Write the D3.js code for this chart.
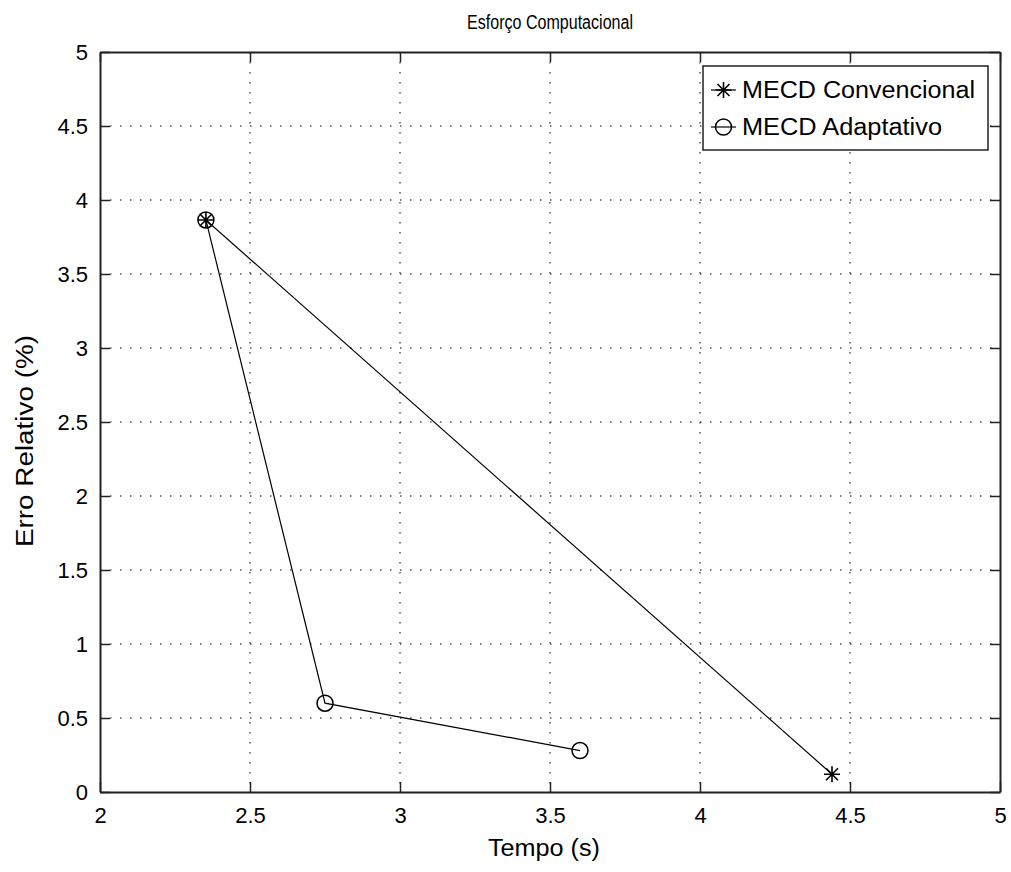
<!DOCTYPE html>
<html>
<head>
  <title>Esforço Computacional</title>
  <script src="https://d3js.org/d3.v7.min.js"></script>
  <style>
    body { margin: 0; background: #fff; }
    text { font-family: "Liberation Sans", Arial, sans-serif; fill: #000; }
    .grid line { stroke: #000; stroke-width: 1; stroke-dasharray: 1.5, 8.5; }
  </style>
</head>
<body>
  <div id="chart"></div>
  <script>
    // data
    const convTempo = [2.353, 4.44];
    const convErro = [3.865, 0.12];
    const adapTempo = [2.353, 2.75, 3.60];
    const adapErro = [3.865, 0.60, 0.28];
    const xTicks = [2, 2.5, 3, 3.5, 4, 4.5, 5];
    const yTicks = [0, 0.5, 1, 1.5, 2, 2.5, 3, 3.5, 4, 4.5, 5];
    const seriesNames = ["MECD Convencional", "MECD Adaptativo"];
    const legendWidths = [233, 200];

    const margin = { top: 52, right: 11, bottom: 80, left: 100 };
    const width = 1011 - margin.left - margin.right;
    const height = 872 - margin.top - margin.bottom;

    const svg = d3.select("#chart").append("svg")
      .attr("width", 1011)
      .attr("height", 872);

    const g = svg.append("g")
      .attr("transform", "translate(" + margin.left + "," + margin.top + ")");

    const x = d3.scaleLinear().domain([2, 5]).range([0, width]);
    const y = d3.scaleLinear().domain([0, 5]).range([height, 0]);

    // dotted grid
    const grid = g.append("g").attr("class", "grid");
    grid.selectAll(".gx").data(xTicks.slice(1, -1)).enter().append("line")
      .attr("x1", d => x(d)).attr("x2", d => x(d))
      .attr("y1", 0).attr("y2", height);
    grid.selectAll(".gy").data(yTicks.slice(1, -1)).enter().append("line")
      .attr("x1", 0).attr("x2", width)
      .attr("y1", d => y(d)).attr("y2", d => y(d));

    // axes (ticks pointing inwards, matlab style)
    const fmt = d => String(d);
    g.append("g")
      .attr("transform", "translate(0," + height + ")")
      .call(d3.axisBottom(x).tickValues(xTicks).tickFormat(fmt).tickSizeInner(-10).tickSizeOuter(0).tickPadding(15));
    g.append("g")
      .call(d3.axisTop(x).tickValues(xTicks).tickFormat("").tickSizeInner(-10).tickSizeOuter(0));
    g.append("g")
      .call(d3.axisLeft(y).tickValues(yTicks).tickFormat(fmt).tickSizeInner(-10).tickSizeOuter(0).tickPadding(12));
    g.append("g")
      .attr("transform", "translate(" + width + ",0)")
      .call(d3.axisRight(y).tickValues(yTicks).tickFormat("").tickSizeInner(-10).tickSizeOuter(0));

    g.selectAll(".domain").attr("stroke", "#222").attr("stroke-width", 2);
    g.selectAll(".tick line").attr("stroke", "#222").attr("stroke-width", 1.5);
    g.selectAll(".tick text").style("font-size", "22px").attr("fill", "#000");

    // series
    const line = d3.line().x(d => x(d[0])).y(d => y(d[1]));
    const conv = convTempo.map((t, i) => [t, convErro[i]]);
    const adap = adapTempo.map((t, i) => [t, adapErro[i]]);

    g.append("path").datum(conv).attr("d", line)
      .attr("fill", "none").attr("stroke", "#000").attr("stroke-width", 1.2);
    g.append("path").datum(adap).attr("d", line)
      .attr("fill", "none").attr("stroke", "#000").attr("stroke-width", 1.2);

    function star(sel, cx, cy) {
      const r = 8, d = 6;
      sel.append("path")
        .attr("d", "M" + (cx - r) + "," + cy + "H" + (cx + r) +
          "M" + cx + "," + (cy - r) + "V" + (cy + r) +
          "M" + (cx - d) + "," + (cy - d) + "L" + (cx + d) + "," + (cy + d) +
          "M" + (cx - d) + "," + (cy + d) + "L" + (cx + d) + "," + (cy - d))
        .attr("stroke", "#000").attr("stroke-width", 1.6).attr("fill", "none");
    }
    function circ(sel, cx, cy) {
      sel.append("circle").attr("cx", cx).attr("cy", cy).attr("r", 8)
        .attr("fill", "none").attr("stroke", "#000").attr("stroke-width", 1.5);
    }

    adap.forEach(d => circ(g, x(d[0]), y(d[1])));
    conv.forEach(d => star(g, x(d[0]), y(d[1])));

    // legend
    const lg = svg.append("g").attr("transform", "translate(703,66)");
    lg.append("rect").attr("width", 285).attr("height", 84)
      .attr("fill", "#fff").attr("stroke", "#222").attr("stroke-width", 1.5);
    seriesNames.forEach((name, i) => {
      const ly = 24 + i * 37;
      lg.append("line").attr("x1", 8).attr("x2", 33).attr("y1", ly).attr("y2", ly)
        .attr("stroke", "#000").attr("stroke-width", 1.2);
      if (i === 0) star(lg, 20.5, ly); else circ(lg, 20.5, ly);
      lg.append("text").attr("x", 39).attr("y", ly + 8)
        .style("font-size", "23px")
        .attr("textLength", legendWidths[i]).attr("lengthAdjust", "spacingAndGlyphs")
        .text(name);
    });

    // title and axis labels
    svg.append("text")
      .attr("x", margin.left + width / 2).attr("y", 29)
      .attr("text-anchor", "middle").style("font-size", "20px")
      .attr("textLength", 166).attr("lengthAdjust", "spacingAndGlyphs")
      .text("Esforço Computacional");
    svg.append("text")
      .attr("x", 544).attr("y", 856)
      .attr("text-anchor", "middle").style("font-size", "23px")
      .attr("textLength", 112).attr("lengthAdjust", "spacingAndGlyphs")
      .text("Tempo (s)");
    svg.append("text")
      .attr("transform", "translate(33,441) rotate(-90)")
      .attr("text-anchor", "middle").style("font-size", "23px")
      .attr("textLength", 212).attr("lengthAdjust", "spacingAndGlyphs")
      .text("Erro Relativo (%)");
  </script>
</body>
</html>
